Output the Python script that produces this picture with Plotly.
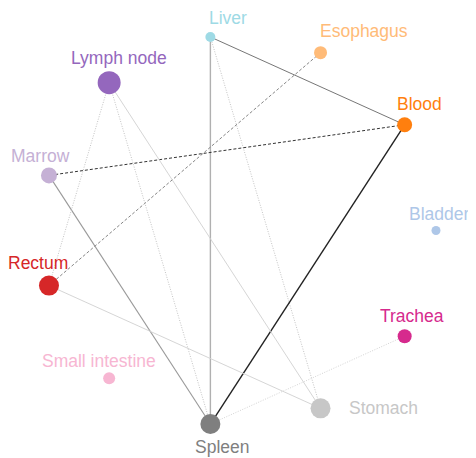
import math
import plotly.graph_objects as go

# Nodes (alphabetical order, circular layout)
nodes = ["Bladder", "Blood", "Esophagus", "Liver", "Lymph node", "Marrow",
         "Rectum", "Small intestine", "Spleen", "Stomach", "Trachea"]
node_values = [9, 15, 13, 10, 23, 16, 20, 12, 20, 20, 14]

# Edges (source, target, relation kind)
edge_src = ["Liver", "Liver", "Liver", "Esophagus", "Blood", "Blood",
            "Marrow", "Lymph node", "Lymph node", "Lymph node", "Rectum", "Spleen"]
edge_dst = ["Blood", "Spleen", "Stomach", "Rectum", "Marrow", "Spleen",
            "Spleen", "Rectum", "Spleen", "Stomach", "Stomach", "Trachea"]
edge_kind = ["mid", "grey", "dot", "dash", "darkdash", "strong",
             "grey2", "dot", "dot", "faint", "faint", "dot2"]

colors = {
    "Bladder": "#aec7e8", "Blood": "#ff7f0e", "Esophagus": "#ffbb78",
    "Liver": "#9edae5", "Lymph node": "#9467bd", "Marrow": "#c5b0d5",
    "Rectum": "#d62728", "Small intestine": "#f7b6d2", "Spleen": "#7f7f7f",
    "Stomach": "#c7c7c7", "Trachea": "#d62a8d",
}
edge_styles = {
    "mid": dict(color="#666666", width=0.9, dash="solid"),
    "grey": dict(color="#b0b0b0", width=1.4, dash="solid"),
    "dot": dict(color="#c4c4c4", width=1.0, dash="1px,1.5px"),
    "dot2": dict(color="#d4d4d4", width=1.0, dash="1px,1.5px"),
    "dash": dict(color="#777777", width=0.9, dash="3px,2px"),
    "darkdash": dict(color="#333333", width=1.0, dash="3px,2px"),
    "strong": dict(color="#222222", width=1.4, dash="solid"),
    "grey2": dict(color="#999999", width=1.1, dash="solid"),
    "faint": dict(color="#d0d0d0", width=0.9, dash="solid"),
}
# label placement (anchor, x shift px, y shift px)
label_place = {
    "Bladder": ("center", 3, 16), "Blood": ("center", 15, 21),
    "Esophagus": ("center", 43, 22), "Liver": ("center", 18, 19),
    "Lymph node": ("center", 10, 25), "Marrow": ("center", -8, 19),
    "Rectum": ("center", -11, 23), "Small intestine": ("center", -10, 17),
    "Spleen": ("center", 12, -23), "Stomach": ("left", 27, 0),
    "Trachea": ("center", 7, 20),
}

n = len(nodes)
pos = {name: (math.cos(2 * math.pi * i / n), math.sin(2 * math.pi * i / n))
       for i, name in enumerate(nodes)}

fig = go.Figure()
for s, t, k in zip(edge_src, edge_dst, edge_kind):
    x0, y0 = pos[s]
    x1, y1 = pos[t]
    fig.add_trace(go.Scatter(x=[x0, x1], y=[y0, y1], mode="lines",
                             line=edge_styles[k], hoverinfo="skip",
                             showlegend=False))

fig.add_trace(go.Scatter(
    x=[pos[nm][0] for nm in nodes], y=[pos[nm][1] for nm in nodes],
    mode="markers",
    marker=dict(size=node_values, color=[colors[nm] for nm in nodes],
                opacity=1, line=dict(width=0)),
    text=nodes, hoverinfo="text", showlegend=False))

for nm in nodes:
    x, y = pos[nm]
    anchor, dx, dy = label_place[nm]
    fig.add_annotation(x=x, y=y, xref="x", yref="y", text=nm, showarrow=False,
                       xshift=dx, yshift=dy, xanchor=anchor, borderpad=0,
                       font=dict(family="Liberation Sans, Arial, sans-serif",
                                 size=17.5, color=colors[nm]))

fig.update_layout(
    width=468, height=450, margin=dict(l=0, r=0, t=0, b=0),
    paper_bgcolor="white", plot_bgcolor="white",
    xaxis=dict(range=[-1.167, 1.2025], visible=False, fixedrange=True),
    yaxis=dict(range=[-1.1637, 1.138], visible=False, fixedrange=True),
)
fig.write_html("out.html")
